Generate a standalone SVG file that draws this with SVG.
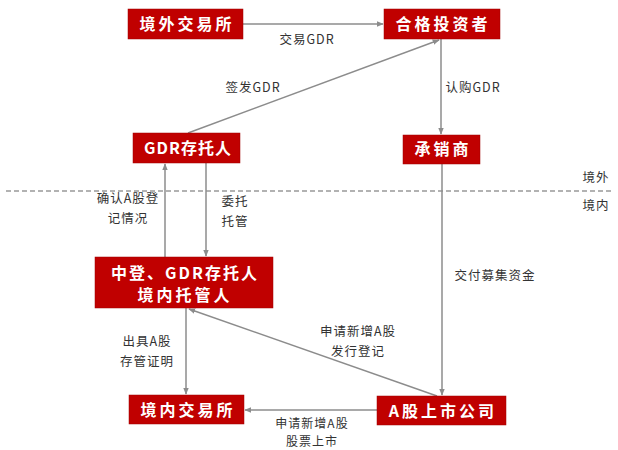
<svg xmlns="http://www.w3.org/2000/svg" width="618" height="450" viewBox="0 0 618 450">
<defs>
<marker id="ah" viewBox="0 0 10 10" refX="9" refY="5" markerWidth="7" markerHeight="7" orient="auto-start-reverse" markerUnits="userSpaceOnUse">
<path d="M0,1 L10,5 L0,9 Z" fill="#8c8c8c"/>
</marker>
<style>
.box{fill:#c00000;stroke:#a00000;stroke-width:0.5}
.bt{font-family:"Noto Sans CJK SC","Liberation Sans",sans-serif;font-weight:bold;font-size:16px;fill:#fff;text-anchor:middle;letter-spacing:3px}
.lb{font-family:"Noto Sans CJK SC","Liberation Sans",sans-serif;font-size:12.5px;fill:#333;text-anchor:middle;letter-spacing:1px}
.ln{stroke:#8c8c8c;stroke-width:1.5;fill:none}
</style>
</defs>
<rect width="618" height="450" fill="#fff"/>
<line x1="6" y1="191" x2="612" y2="191" stroke="#999" stroke-width="1.3" stroke-dasharray="5,3"/>
<text class="lb" x="596" y="182">境外</text>
<text class="lb" x="596" y="210">境内</text>
<g id="connectors">
<line class="ln" x1="243" y1="24" x2="383" y2="24" marker-end="url(#ah)"/>
<line class="ln" x1="188" y1="133" x2="439" y2="40" marker-end="url(#ah)"/>
<line class="ln" x1="441" y1="39" x2="441" y2="134" marker-end="url(#ah)"/>
<line class="ln" x1="442" y1="164" x2="442" y2="395" marker-end="url(#ah)"/>
<line class="ln" x1="165" y1="257" x2="165" y2="164" marker-end="url(#ah)"/>
<line class="ln" x1="206" y1="163" x2="206" y2="256" marker-end="url(#ah)"/>
<line class="ln" x1="186" y1="308" x2="186" y2="394" marker-end="url(#ah)"/>
<line class="ln" x1="437" y1="396" x2="189" y2="309" marker-end="url(#ah)"/>
<line class="ln" x1="377" y1="410" x2="245" y2="410" marker-end="url(#ah)"/>
<text class="lb" x="307" y="44">交易GDR</text>
<text class="lb" x="253" y="92">签发GDR</text>
<text class="lb" x="473" y="92">认购GDR</text>
<text class="lb" x="495" y="280">交付募集资金</text>
<text class="lb" x="128" y="203">确认A股登</text>
<text class="lb" x="128" y="223">记情况</text>
<text class="lb" x="235" y="206">委托</text>
<text class="lb" x="235" y="226">托管</text>
<text class="lb" x="147" y="346">出具A股</text>
<text class="lb" x="147" y="366">存管证明</text>
<text class="lb" x="358" y="336">申请新增A股</text>
<text class="lb" x="358" y="356">发行登记</text>
<text class="lb" x="312" y="428" style="font-size:12px">申请新增A股</text>
<text class="lb" x="312" y="446" style="font-size:12px">股票上市</text>
</g>
<g id="n1"><rect class="box" x="128" y="9" width="115" height="30"/><text class="bt" x="187" y="30">境外交易所</text></g>
<g id="n2"><rect class="box" x="384" y="9" width="116" height="30"/><text class="bt" x="443" y="30">合格投资者</text></g>
<g id="n3"><rect class="box" x="133" y="133" width="107" height="30"/><text class="bt" x="188" y="154" style="letter-spacing:1px">GDR存托人</text></g>
<g id="n4"><rect class="box" x="403" y="135" width="77" height="29"/><text class="bt" x="443" y="155">承销商</text></g>
<g id="n5"><rect class="box" x="95" y="257" width="178" height="51"/><text class="bt" x="185" y="279" style="letter-spacing:2px">中登、GDR存托人</text><text class="bt" x="185" y="301">境内托管人</text></g>
<g id="n6"><rect class="box" x="129" y="395" width="115" height="29"/><text class="bt" x="188" y="416">境内交易所</text></g>
<g id="n7"><rect class="box" x="377" y="396" width="129" height="29"/><text class="bt" x="443" y="417">A股上市公司</text></g>
</svg>
